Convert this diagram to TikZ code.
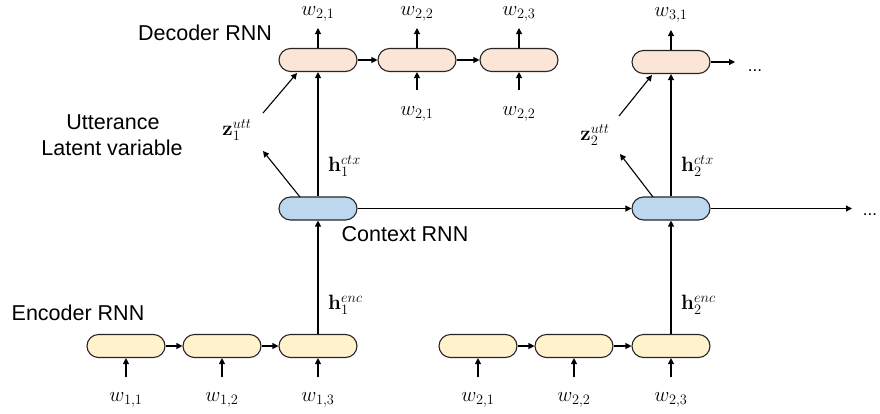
\documentclass[tikz,border=0pt]{standalone}
\usepackage[no-math]{fontspec}
\setmainfont{Liberation Sans}
\usetikzlibrary{arrows.meta}
\begin{document}
\begin{tikzpicture}[x=1pt,y=-1pt,
  cell/.style={draw=black!85, line width=1.1pt, rounded corners=11.5pt, minimum width=78pt, minimum height=23pt, inner sep=0pt},
  dec/.style={cell, fill=decfill},
  ctxc/.style={cell, fill=ctxfill},
  enc/.style={cell, fill=encfill},
  arr/.style={line width=1.1pt, -{Triangle[length=6pt,width=6pt]}},
  lbl/.style={font=\fontsize{21.5}{25}\selectfont, inner sep=0pt},
  mlbl/.style={font=\fontsize{22}{26}\selectfont, inner sep=0pt},
  dots/.style={font=\fontsize{17}{20}\selectfont, inner sep=0pt},
]
\definecolor{decfill}{HTML}{FBE5D6}
\definecolor{ctxfill}{HTML}{BDD7EE}
\definecolor{encfill}{HTML}{FFF2CC}
\useasboundingbox (0,0) rectangle (880,413);

% decoder
\node[dec] (d1) at (318,60) {};
\node[dec] (d2) at (417,60) {};
\node[dec] (d3) at (519,60) {};
\node[dec] (d4) at (671,62) {};
% context
\node[ctxc] (c1) at (318,208.5) {};
\node[ctxc] (c2) at (671,208.5) {};
% encoder
\node[enc] (e1) at (126,346) {};
\node[enc] (e2) at (222,346) {};
\node[enc] (e3) at (318,346) {};
\node[enc] (e4) at (478,346) {};
\node[enc] (e5) at (574,346) {};
\node[enc] (e6) at (671,346) {};

% text labels
\node[lbl] (tdec) at (205,33) {Decoder RNN};
\node[lbl] (tutt) at (113,122) {Utterance};
\node[lbl] (tlat) at (112,148) {Latent variable};
\node[lbl] (tctx) at (405,234) {Context RNN};
\node[lbl] (tenc) at (78,313) {Encoder RNN};

% decoder outputs
\node[mlbl] (o1) at (318,14) {$w_{2,1}$};
\node[mlbl] (o2) at (417,14) {$w_{2,2}$};
\node[mlbl] (o3) at (519,14) {$w_{2,3}$};
\node[mlbl] (o4) at (671,15) {$w_{3,1}$};
\coordinate (o1a) at (318,28);
\coordinate (o2a) at (417,28);
\coordinate (o3a) at (519,28);
\coordinate (o4a) at (671,30);
\draw[arr] (d1.north) -- (o1a);
\draw[arr] (d2.north) -- (o2a);
\draw[arr] (d3.north) -- (o3a);
\draw[arr] (d4.north) -- (o4a);

% decoder inputs
\node[mlbl] (i2) at (417,114) {$w_{2,1}$};
\node[mlbl] (i3) at (519,114) {$w_{2,2}$};
\coordinate (i2a) at (417,90);
\coordinate (i3a) at (519,90);
\draw[arr] (i2a) -- (d2.south);
\draw[arr] (i3a) -- (d3.south);

% decoder chain
\draw[arr] (d1.east) -- (d2.west);
\draw[arr] (d2.east) -- (d3.west);
\coordinate (d4end) at (735,62);
\draw[arr] (d4.east) -- (d4end);
\node[dots] (dots1) at (755,71) {...};

% context chain
\draw[arr] (c1.east) -- (c2.west);
\coordinate (c2end) at (852,208.5);
\draw[arr] (c2.east) -- (c2end);
\node[dots] (dots2) at (870,215) {...};

% context -> decoder
\draw[arr] (c1.north) -- (d1.south);
\draw[arr] (c2.north) -- (d4.south);
\node[mlbl, anchor=west] (h1c) at (328,166) {$\mathbf{h}_1^{ctx}$};
\node[mlbl, anchor=west] (h2c) at (681,166) {$\mathbf{h}_2^{ctx}$};

% latent variables
\coordinate (z1s) at (300,197);
\coordinate (z1e) at (263,151);
\coordinate (z1a) at (263,113);
\coordinate (z1b) at (297,73);
\draw[arr] (z1s) -- (z1e);
\draw[arr] (z1a) -- (z1b);
\node[mlbl] (z1) at (237,130) {$\mathbf{z}_1^{utt}$};
\coordinate (z2s) at (653,197);
\coordinate (z2e) at (620,154);
\coordinate (z2a) at (619,116);
\coordinate (z2b) at (652,75);
\draw[arr] (z2s) -- (z2e);
\draw[arr] (z2a) -- (z2b);
\node[mlbl] (z2) at (595,135) {$\mathbf{z}_2^{utt}$};

% encoder -> context
\draw[arr] (e3.north) -- (c1.south);
\draw[arr] (e6.north) -- (c2.south);
\node[mlbl, anchor=west] (h1e) at (328,305) {$\mathbf{h}_1^{enc}$};
\node[mlbl, anchor=west] (h2e) at (681,305) {$\mathbf{h}_2^{enc}$};

% encoder chain
\draw[arr] (e1.east) -- (e2.west);
\draw[arr] (e2.east) -- (e3.west);
\draw[arr] (e4.east) -- (e5.west);
\draw[arr] (e5.east) -- (e6.west);

% encoder inputs
\foreach \n/\x/\t in {e1/126/{1,1}, e2/222/{1,2}, e3/318/{1,3}, e4/478/{2,1}, e5/574/{2,2}, e6/671/{2,3}} {
  \coordinate (\n in) at (\x,377);
  \draw[arr] (\n in) -- (\n.south);
  \node[mlbl] (\n lab) at (\x,400) {$w_{\t}$};
}
\end{tikzpicture}
\end{document}
